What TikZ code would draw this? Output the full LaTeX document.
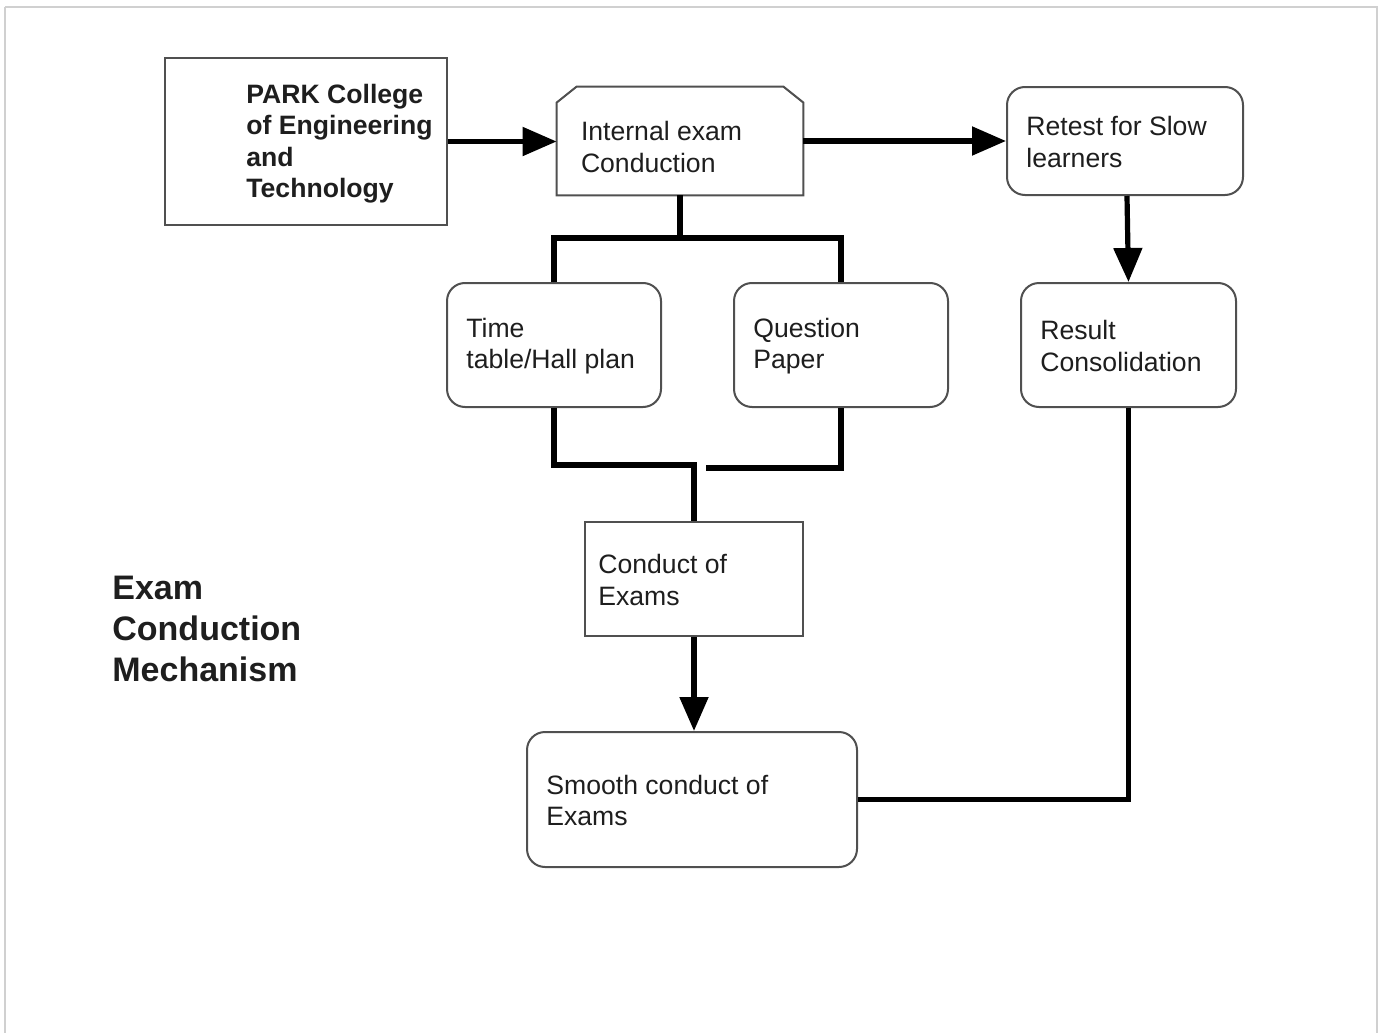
\documentclass[tikz,border=0pt]{standalone}
\usepackage{fontspec}
\setmainfont{Liberation Sans}
\usetikzlibrary{arrows.meta,calc}
\definecolor{boxline}{HTML}{505050}
\definecolor{txtcol}{HTML}{1E1E1E}
\definecolor{framecol}{HTML}{D0D0D0}
\tikzset{
  sqbox/.style={draw=boxline, line width=1pt, fill=white, inner sep=0pt},
  rbox/.style={sqbox, rounded corners=9pt},
  hidden/.style={draw=none, inner sep=0pt},
  lbl/.style={anchor=west, inner sep=0pt, align=left, text=txtcol,
    font=\fontsize{13.3pt}{15.6pt}\selectfont},
  conn/.style={line width=2.6pt, black},
  arr/.style={conn, -{Triangle[length=17pt,width=14pt]}},
}
\begin{document}
\begin{tikzpicture}[x=0.5pt,y=-0.5pt]
\useasboundingbox (0,0) rectangle (1383,1033);
\fill[white] (0,0) rectangle (1383,1033);
\draw[framecol, line width=0.8pt] (5,7) -- (1377,7) -- (1377,1045);
\draw[framecol, line width=0.8pt] (5,7) -- (5,1045);

% boxes
\node[sqbox, minimum width=141pt, minimum height=83.5pt] (park) at (306,141.5) {};
\node[hidden, minimum width=123pt, minimum height=54pt] (int) at (680,141) {};
\draw[boxline, line width=1pt, fill=white]
  (int.south west) -- ([yshift=-8pt]int.north west) -- ([xshift=10pt]int.north west)
  -- ([xshift=-10pt]int.north east) -- ([yshift=-8pt]int.north east) -- (int.south east) -- cycle;
\node[rbox, minimum width=118pt, minimum height=54pt] (ret) at (1125,141) {};
\node[rbox, minimum width=107pt, minimum height=62pt] (tt) at (554,345) {};
\node[rbox, minimum width=107pt, minimum height=62pt] (qp) at (841,345) {};
\node[rbox, minimum width=107.5pt, minimum height=62pt] (res) at (1128.5,345) {};
\node[sqbox, minimum width=109pt, minimum height=57pt] (cond) at (694,579) {};
\node[rbox, minimum width=165pt, minimum height=67.5pt] (smooth) at (692,799.5) {};

% texts
\node[lbl, font=\bfseries\fontsize{13.3pt}{15.7pt}\selectfont] (parkt) at ([xshift=41pt,yshift=-1pt]park.west)
  {PARK College\\of Engineering\\and\\Technology};
\node[lbl] (intt) at ([xshift=12pt,yshift=-3pt]int.west) {Internal exam\\Conduction};
\node[lbl] (rett) at ([xshift=10pt,yshift=-0.5pt]ret.west) {Retest for Slow\\learners};
\node[lbl] (ttt) at ([xshift=10pt,yshift=-0.5pt]tt.west) {Time\\table/Hall plan};
\node[lbl] (qpt) at ([xshift=10pt,yshift=-0.5pt]qp.west) {Question\\Paper};
\node[lbl] (rest) at ([xshift=10pt,yshift=-0.5pt]res.west) {Result\\Consolidation};
\node[lbl] (condt) at ([xshift=7pt,yshift=-0.5pt]cond.west) {Conduct of\\Exams};
\node[lbl] (smootht) at ([xshift=10pt,yshift=-0.5pt]smooth.west) {Smooth conduct of\\Exams};
\node[lbl, font=\bfseries\fontsize{17pt}{20.5pt}\selectfont] (title) at (112,629)
  {Exam\\Conduction\\Mechanism};

% connectors
\coordinate (split) at (680,238);
\coordinate (mergeL) at (694,465);
\coordinate (mergeR) at (706,468);
\draw[arr] (park.east) -- (park.east -| int.west);
\draw[arr] (int.east) -- (ret.west);
\draw[conn] (int.south) -- (split) -| (tt.north);
\draw[conn] (split) -| (qp.north);
\draw[conn] (tt.south) |- (mergeL) -- (mergeL |- cond.north);
\draw[conn] (qp.south) |- (mergeR);
\draw[arr] (cond.south) -- (cond.south |- smooth.north);
\draw[arr] ([xshift=1pt]ret.south) -- (res.north);
\draw[conn] (res.south) |- (smooth.east);
\end{tikzpicture}
\end{document}
